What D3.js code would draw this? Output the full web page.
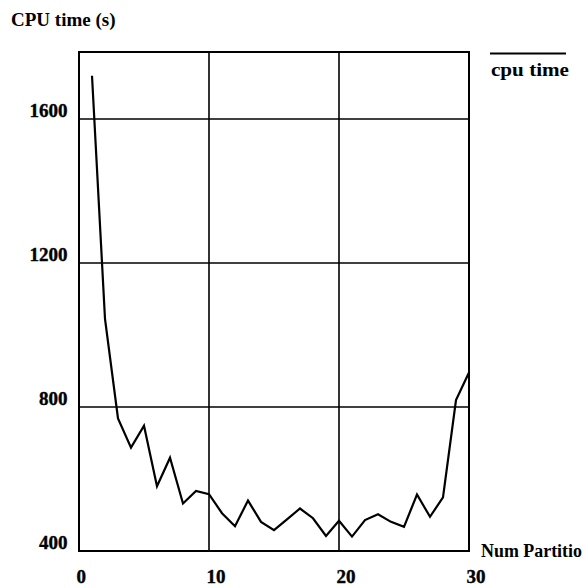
<!DOCTYPE html>
<html>
<head>
<meta charset="utf-8">
<script src="https://cdn.jsdelivr.net/npm/d3@7"></script>
<style>
  html, body { margin: 0; padding: 0; background: #fff; }
  svg { display: block; }
  text { font-family: "Liberation Serif", "Times New Roman", serif; font-weight: bold; fill: #000; }
</style>
</head>
<body>
<svg id="chart" width="586" height="588"></svg>
<script>
// CPU time measured for each number of partitions
const partitions = [1, 2, 3, 4, 5, 6, 7, 8, 9, 10, 11, 12, 13, 14, 15,
                    16, 17, 18, 19, 20, 21, 22, 23, 24, 25, 26, 27, 28, 29, 30];
const cpuTime = [1720, 1045, 768, 687, 748, 580, 659, 532, 567, 558, 505, 469, 540, 481, 458,
                 488, 518, 491, 442, 484, 440, 486, 502, 481, 467, 557, 495, 549, 819, 896];

const xTicks = [0, 10, 20, 30];
const yTicks = [400, 800, 1200, 1600];
const seriesName = "cpu time";
const yTitle = "CPU time (s)";
const xTitle = "Num Partitio";

const svg = d3.select("#chart");
const plotLeft = 79, plotRight = 469, plotTop = 52, plotBottom = 551;

const x = d3.scaleLinear().domain([0, 30]).range([plotLeft, plotRight]);
const y = d3.scaleLinear().domain([400, 1786]).range([plotBottom, plotTop]);

// grid lines
const g = svg.append("g");
g.selectAll("line.vgrid").data(xTicks.slice(1, -1)).join("line")
  .attr("class", "vgrid")
  .attr("x1", d => x(d)).attr("x2", d => x(d))
  .attr("y1", plotTop).attr("y2", plotBottom)
  .attr("stroke", "#000").attr("stroke-width", 1.6);
g.selectAll("line.hgrid").data(yTicks.slice(1)).join("line")
  .attr("class", "hgrid")
  .attr("x1", plotLeft).attr("x2", plotRight)
  .attr("y1", d => y(d)).attr("y2", d => y(d))
  .attr("stroke", "#000").attr("stroke-width", 1.6);

// frame
svg.append("rect")
  .attr("x", plotLeft).attr("y", plotTop)
  .attr("width", plotRight - plotLeft).attr("height", plotBottom - plotTop)
  .attr("fill", "none").attr("stroke", "#000").attr("stroke-width", 2);

// tick labels
svg.selectAll("text.ylab").data(yTicks).join("text")
  .attr("class", "ylab")
  .attr("x", 67.5).attr("y", d => y(d) - 2)
  .attr("text-anchor", "end")
  .attr("font-size", 19)
  .attr("stroke", "#000").attr("stroke-width", 0.4)
  .text(d => d);
svg.selectAll("text.xlab").data(xTicks).join("text")
  .attr("class", "xlab")
  .attr("x", d => x(d) - 2.5).attr("y", 583)
  .attr("text-anchor", "start")
  .attr("font-size", 19)
  .attr("stroke", "#000").attr("stroke-width", 0.4)
  .text(d => d);

// data line
const line = d3.line()
  .x((d, i) => x(partitions[i]))
  .y(d => y(d));
svg.append("path")
  .datum(cpuTime)
  .attr("d", line)
  .attr("fill", "none")
  .attr("stroke", "#000")
  .attr("stroke-width", 2.2)
  .attr("stroke-linejoin", "miter");

// titles
svg.append("text").attr("x", 11).attr("y", 26).attr("font-size", 19).text(yTitle);
svg.append("text").attr("x", 481).attr("y", 557).attr("font-size", 18)
  .attr("textLength", 101).attr("lengthAdjust", "spacingAndGlyphs").text(xTitle);

// legend
svg.append("line")
  .attr("x1", 490).attr("x2", 566).attr("y1", 53.5).attr("y2", 53.5)
  .attr("stroke", "#000").attr("stroke-width", 2);
svg.append("text").attr("x", 491).attr("y", 76).attr("font-size", 19)
  .attr("textLength", 78).attr("lengthAdjust", "spacingAndGlyphs").text(seriesName);
</script>
</body>
</html>
